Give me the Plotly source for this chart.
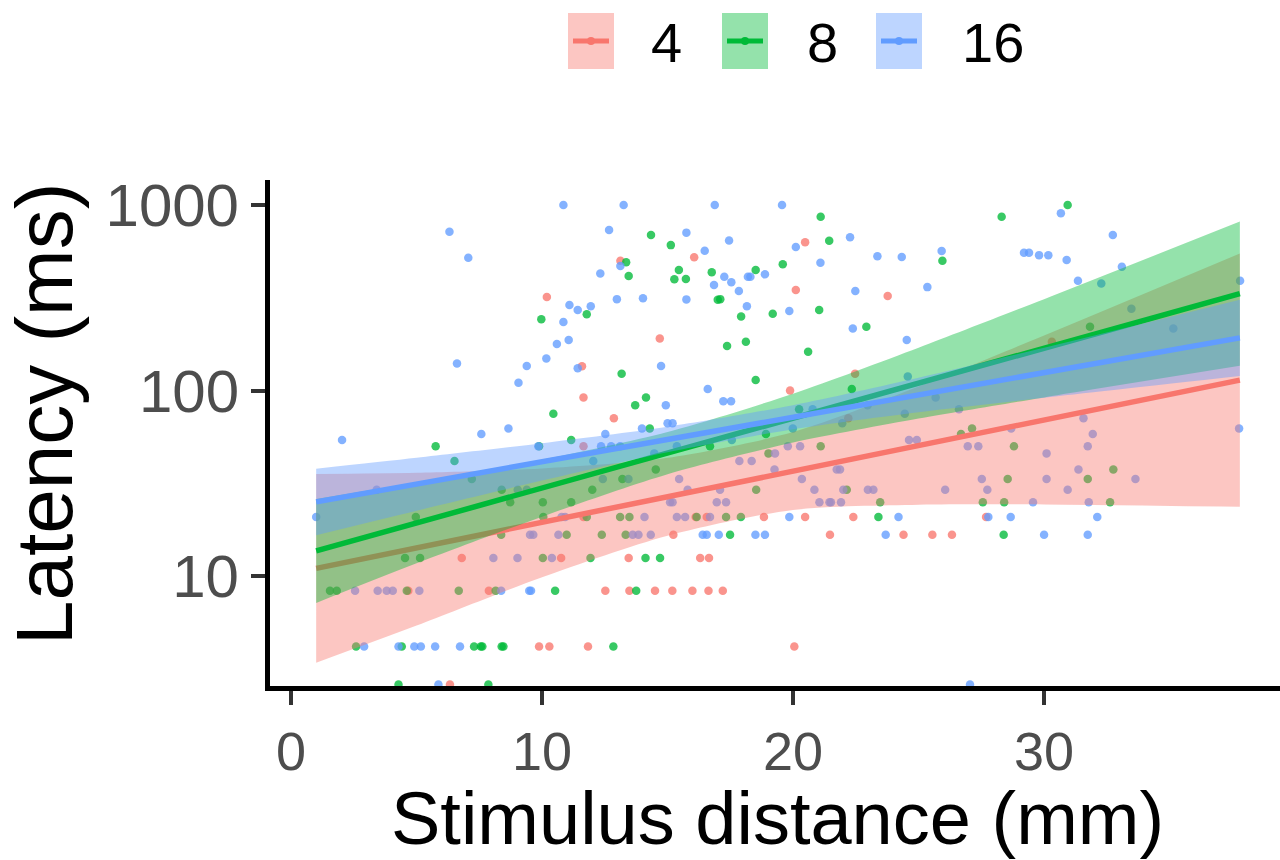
import plotly.graph_objects as go

# ---------------- data ----------------
groups = ["4", "8", "16"]

red_x = [16.06, 13.12, 10.19, 14.69, 11.59, 19.88, 11.65, 12.86, 11.65, 20.48, 20.11, 23.77,
         22.47, 22.2, 30.31, 6.8, 4.67, 7.88, 6.33, 11.65, 16.12, 16.56, 18.84, 15.23, 10.76,
         13.45, 16.3, 16.65, 12.52, 13.48, 14.5, 15.19, 15.99, 16.63, 17.2, 9.88, 10.29, 11.83,
         20.48, 22.4, 27.69, 21.47, 24.4, 25.55, 26.33, 20.05]
red_y = [523, 501, 319, 191, 135, 100, 91.67, 70.83, 50, 630, 348, 323,
         123, 70.83, 183, 12.5, 8.33, 8.33, 2.6, 20.83, 20.83, 20.83, 20.83, 16.67, 12.5,
         12.5, 12.5, 12.5, 8.33, 8.33, 8.33, 8.33, 8.33, 8.33, 8.33, 4.17, 4.17, 4.17,
         20.83, 20.83, 20.83, 16.67, 16.67, 16.67, 16.67, 4.17]

green_x = [5.76, 14.34, 15.13, 13.35, 19.59, 15.45, 16.76, 18.51, 13.45, 15.27, 15.73, 17.0, 17.1,
           11.78, 9.97, 17.93, 19.19, 17.37, 18.12, 13.17, 18.51, 14.14, 13.71, 10.45, 14.29,
           11.16, 9.88, 21.1, 28.31, 21.44, 25.95, 21.04, 22.92, 20.6, 22.34, 26.69, 27.13, 28.8,
           21.1, 20.24, 30.94, 31.83, 6.51, 7.2, 8.39, 8.73, 4.97, 8.37, 4.54, 5.14,
           1.55, 1.82, 4.61, 6.68, 8.15, 2.59, 4.41, 7.29, 7.56, 7.62, 8.39, 8.46, 4.28, 7.86,
           14.53, 13.2, 12.0, 10.03, 11.16, 10.05, 11.78, 13.11, 13.48, 16.16, 17.33, 17.92,
           10.98, 12.38, 13.33, 17.49, 10.03, 11.93, 14.12, 14.7, 10.52, 13.75, 12.84, 18.53,
           19.02, 16.69, 18.92, 22.14, 28.55, 23.47, 27.56, 28.41, 23.4, 28.39, 32.76, 31.74, 32.63]
green_y = [50, 689, 608, 491, 479, 446, 434, 446, 414, 398, 399, 309, 311,
           258, 242, 251, 259, 174, 183, 123, 114, 91.67, 83.33, 75, 62.5,
           54.17, 50, 865, 865, 642, 501, 272, 221, 162, 102, 58.33, 62.5, 50,
           50, 79.17, 1000, 221, 41.67, 33.33, 29.17, 25, 20.83, 16.67, 12.5, 12.5,
           8.33, 8.33, 8.33, 8.33, 8.33, 4.17, 4.17, 4.17, 4.17, 4.17, 4.17, 4.17, 2.6, 2.6,
           37.5, 33.33, 29.17, 25, 25, 20.83, 20.83, 20.83, 20.83, 20.83, 20.83, 20.83,
           16.67, 16.67, 16.67, 16.67, 12.5, 12.5, 12.5, 12.5, 8.33, 8.33, 4.17, 29.17,
           45.83, 50, 58.33, 29.17, 33.33, 25, 25, 25, 20.83, 16.67, 37.5, 33.33, 25]

blue_x = [6.31, 7.06, 6.61, 9.39, 9.06, 8.66, 7.58, 2.03,
          10.85, 13.25, 16.88, 19.56, 12.67, 15.75, 17.45, 16.48, 13.12, 12.32, 17.26, 18.2, 18.3,
          18.88, 16.85, 17.54, 17.84, 12.98, 14.02, 15.75, 11.09, 11.42, 11.94, 10.85, 18.16, 19.85,
          10.59, 11.06, 10.17, 11.42, 14.74, 16.6, 17.22, 17.53, 14.93, 12.52, 13.98, 15.0, 15.2,
          12.35, 12.75, 13.11,
          20.11, 22.27, 21.09, 23.36, 24.33, 25.92, 29.2, 29.4, 29.8, 30.17, 22.48, 25.35, 22.38,
          24.53, 24.57, 20.78, 19.99, 25.68, 26.61, 24.45, 21.96, 24.62, 24.93, 28.69, 26.96, 27.38,
          20.28,
          30.67, 32.74, 30.9, 33.1, 31.35, 32.28, 37.81, 33.48, 35.15, 31.57, 31.94, 31.74, 37.77,
          3.41, 9.03, 9.39, 1.0, 9.52, 8.06, 9.02, 2.55, 3.45, 3.81, 4.05, 5.11, 8.37, 9.49,
          2.91, 4.28, 4.91, 5.17, 5.74, 6.73, 5.87,
          9.85, 12.04, 14.47, 15.37, 12.42, 13.44, 10.78, 10.92, 14.08, 15.37, 15.7, 16.69, 19.85,
          9.65, 10.65, 13.61, 13.84, 14.33, 16.4, 16.56, 17.04, 18.5, 18.88, 10.39, 9.56,
          15.46, 15.8, 17.09, 15.1, 15.2, 16.96, 17.33, 19.26, 17.86, 18.35, 19.28, 19.79, 17.56,
          30.1, 21.74, 21.87, 20.35, 27.52, 30.1, 20.85, 22.0, 22.98, 23.2, 26.06, 27.74, 21.05,
          21.45, 21.51, 21.91, 29.56, 24.2, 27.78, 28.67, 23.69, 30.0, 27.05,
          31.37, 33.64, 30.94, 31.78, 32.12, 31.74, 22.97]
blue_y = [718, 520, 140, 135.6, 110, 62.5, 58.33, 54.17,
          1000, 1000, 1000, 1000, 733, 710, 643, 567, 469, 428, 410, 410, 410,
          423, 371, 383, 344, 311, 314, 310, 289, 272, 285, 234, 285, 268,
          178, 187, 149, 132, 135.6, 102, 87.5, 87.5, 83.33, 58.33, 62.5, 66.67, 66.67,
          50, 50, 50,
          594, 670, 489, 529, 525, 565, 553, 553, 537, 536, 344, 361, 216,
          187, 119, 79.17, 62.5, 91.67, 79.17, 75, 66.67, 54.17, 54.17, 62.5, 50, 50,
          50,
          902, 689, 505, 465, 391, 378, 391, 276, 216, 70.83, 58.33, 50, 62.5,
          29.17, 29.17, 29.17, 20.83, 16.67, 12.5, 12.5, 8.33, 8.33, 8.33, 8.33, 8.33, 8.33, 8.33,
          4.17, 4.17, 4.17, 4.17, 4.17, 4.17, 2.6,
          50, 41.67, 45.83, 50, 33.33, 33.33, 20.83, 20.83, 20.83, 20.83, 20.83, 20.83, 20.83,
          16.67, 16.67, 16.67, 16.67, 16.67, 16.67, 16.67, 16.67, 16.67, 16.67, 12.5, 8.33,
          33.33, 29.17, 29.17, 25, 25, 25, 25, 37.5, 41.67, 41.67, 45.83, 50, 54.17,
          45.83, 37.5, 37.5, 33.33, 33.33, 33.33, 29.17, 29.17, 29.17, 29.17, 29.17, 29.17, 25,
          25, 25, 25, 25, 20.83, 20.83, 20.83, 16.67, 16.67, 2.6,
          37.5, 33.33, 29.17, 25, 20.83, 16.67, 83.33]

# fitted lines and confidence bands (read at these distances)
fit_x = [1, 5, 10, 15, 20, 25, 30, 37.8]
red_fit = [11.0, 14.2, 19.5, 26.8, 36.8, 50.5, 69.3, 113.8]
red_hi = [35.5, 36.0, 38.0, 43.4, 59.7, 105.0, 198.0, 548.0]
red_lo = [3.41, 5.41, 9.86, 16.5, 22.7, 24.2, 24.3, 23.6]
green_fit = [13.65, 19.3, 29.8, 46.0, 71.0, 109.6, 169.0, 332.7]
green_hi = [26.0, 32.0, 42.4, 59.8, 96.2, 170.2, 311.0, 815.0]
green_lo = [7.16, 11.7, 20.9, 35.4, 52.4, 70.6, 91.8, 135.8]
blue_fit = [25.1, 31.3, 41.2, 54.4, 71.7, 94.6, 124.8, 192.3]
blue_hi = [37.9, 43.4, 52.0, 63.8, 83.4, 117.2, 170.2, 309.0]
blue_lo = [16.6, 22.5, 32.7, 46.5, 61.8, 76.4, 91.4, 119.7]

y_ticks = [10, 100, 1000]
x_ticks = [0, 10, 20, 30]

# ---------------- styling ----------------
colors = {"4": (248, 118, 109), "8": (0, 186, 56), "16": (97, 156, 255)}
def rgba(c, a):
    return "rgba(%d,%d,%d,%.3f)" % (c[0], c[1], c[2], a)

FONT = "Liberation Sans, Arial, Helvetica, sans-serif"

fig = go.Figure()

pts = {"4": (red_x, red_y), "8": (green_x, green_y), "16": (blue_x, blue_y)}
for g in groups:
    xs, ys = pts[g]
    fig.add_trace(go.Scatter(x=xs, y=ys, mode="markers", showlegend=False,
                             marker=dict(size=8.5, color=rgba(colors[g], 0.78), line=dict(width=0)),
                             hoverinfo="skip"))

fits = {"4": (red_fit, red_hi, red_lo), "8": (green_fit, green_hi, green_lo),
        "16": (blue_fit, blue_hi, blue_lo)}
for g in groups:
    f, hi, lo = fits[g]
    fig.add_trace(go.Scatter(x=fit_x, y=hi, mode="lines", showlegend=False,
                             line=dict(width=0, shape="spline", smoothing=0.8),
                             hoverinfo="skip"))
    fig.add_trace(go.Scatter(x=fit_x, y=lo, mode="lines", showlegend=False, fill="tonexty",
                             fillcolor=rgba(colors[g], 0.42),
                             line=dict(width=0, shape="spline", smoothing=0.8),
                             hoverinfo="skip"))
    fig.add_trace(go.Scatter(x=fit_x, y=f, mode="lines", showlegend=False,
                             line=dict(width=5.5, color=rgba(colors[g], 1)), hoverinfo="skip"))

# ---------------- custom legend (ggplot-like keys) ----------------
L, T, W, H = 270, 180, 1010, 506   # plot area in pixels
def px(x):
    return (x - L) / W
def py(y):
    return (T + H - y) / H

keys = [("4", 568, 666), ("8", 722, 822), ("16", 876, 993)]
shapes = []
annotations = []
for g, bx, tx in keys:
    c = colors[g]
    shapes.append(dict(type="rect", xref="paper", yref="paper",
                       x0=px(bx), x1=px(bx + 46), y0=py(69), y1=py(13),
                       fillcolor=rgba(c, 0.42), line=dict(width=0)))
    shapes.append(dict(type="line", xref="paper", yref="paper",
                       x0=px(bx + 5), x1=px(bx + 41), y0=py(41), y1=py(41),
                       line=dict(color=rgba(c, 1), width=5)))
    shapes.append(dict(type="circle", xref="paper", yref="paper",
                       x0=px(bx + 23 - 4), x1=px(bx + 23 + 4), y0=py(41 + 4), y1=py(41 - 4),
                       fillcolor=rgba(c, 1), line=dict(width=0)))
    annotations.append(dict(text=g, xref="paper", yref="paper", x=px(tx), y=py(42),
                            xanchor="center", yanchor="middle", showarrow=False,
                            font=dict(family=FONT, size=56, color="black")))

annotations.append(dict(text="Stimulus distance (mm)", xref="paper", yref="paper",
                        x=px(777), y=py(818), xanchor="center", yanchor="middle",
                        showarrow=False, font=dict(family=FONT, size=74, color="black")))
annotations.append(dict(text="Latency (ms)", xref="paper", yref="paper",
                        x=px(44), y=py(414), xanchor="center", yanchor="middle", textangle=-90,
                        showarrow=False, font=dict(family=FONT, size=80, color="black")))

fig.update_layout(
    width=1280, height=860,
    margin=dict(l=L, r=1280 - L - W, t=T, b=860 - T - H, pad=0),
    plot_bgcolor="white", paper_bgcolor="white",
    showlegend=False,
    shapes=shapes, annotations=annotations,
    font=dict(family=FONT),
)
fig.update_xaxes(range=[-0.84, 39.4], tickvals=x_ticks, showgrid=False, zeroline=False,
                 showline=True, linecolor="black", linewidth=5, mirror=False,
                 ticks="outside", ticklen=14, tickwidth=4, tickcolor="#333333",
                 tickfont=dict(family=FONT, size=54, color="#4D4D4D"))
fig.update_yaxes(type="log", range=[0.407, 3.135], tickvals=y_ticks,
                 ticktext=[str(v) for v in y_ticks], showgrid=False, zeroline=False,
                 showline=True, linecolor="black", linewidth=5, mirror=False,
                 ticks="outside", ticklen=14, tickwidth=4, tickcolor="#333333",
                 tickfont=dict(family=FONT, size=60, color="#4D4D4D"))

fig.write_html("out.html")
